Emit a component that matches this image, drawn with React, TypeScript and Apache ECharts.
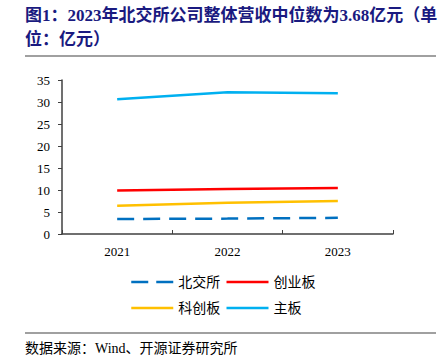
import React, { useEffect, useRef } from "react";
import * as echarts from "echarts";

const years = ["2021", "2022", "2023"];
const bse = [3.4, 3.5, 3.68];
const chinext = [9.9, 10.2, 10.45];
const star = [6.4, 7.1, 7.5];
const mainBoard = [30.6, 32.2, 32.0];

const serif = "'Liberation Serif', 'Times New Roman', 'Noto Sans CJK SC', serif";

const colors = {
  bse: "#0070C0",
  chinext: "#FF0000",
  star: "#FFC000",
  main: "#00B0F0",
};

export default function App() {
  const ref = useRef<HTMLDivElement>(null);
  useEffect(() => {
    const chart = echarts.init(ref.current!, undefined, { renderer: "svg" });
    const legendCommon = {
      left: 130,
      itemWidth: 42,
      itemHeight: 14,
      itemGap: 5,
      padding: 0,
      itemStyle: { opacity: 0 },
      textStyle: { fontFamily: serif, fontSize: 14, color: "#000" },
    };
    chart.setOption({
      animation: false,
      backgroundColor: "#ffffff",
      grid: { left: 62, right: 53, top: 80, bottom: 130 },
      xAxis: {
        type: "category",
        data: years,
        boundaryGap: true,
        axisLine: { lineStyle: { color: "#404040", width: 1.5 } },
        axisTick: { show: true, inside: true, length: 4, lineStyle: { color: "#404040" } },
        axisLabel: { color: "#000", fontFamily: serif, fontSize: 13, margin: 11 },
      },
      yAxis: {
        type: "value",
        min: 0,
        max: 35,
        interval: 5,
        splitLine: { show: false },
        axisLine: { show: true, lineStyle: { color: "#404040", width: 1.5 } },
        axisTick: { show: true, inside: false, length: 4, lineStyle: { color: "#404040" } },
        axisLabel: { color: "#000", fontFamily: serif, fontSize: 13, margin: 12 },
      },
      legend: [
        {
          ...legendCommon,
          top: 275,
          data: [
            { name: "北交所", lineStyle: { color: colors.bse, width: 2.5, type: [17, 8] } },
            { name: "创业板", lineStyle: { color: colors.chinext, width: 2.5 } },
          ],
        },
        {
          ...legendCommon,
          top: 301,
          data: [
            { name: "科创板", lineStyle: { color: colors.star, width: 2.5 } },
            { name: "主板", lineStyle: { color: colors.main, width: 2.5 } },
          ],
        },
      ],
      series: [
        {
          name: "北交所",
          type: "line",
          data: bse,
          symbol: "none",
          lineStyle: { color: colors.bse, width: 2.5, type: [17, 9] },
          itemStyle: { color: colors.bse },
        },
        {
          name: "创业板",
          type: "line",
          data: chinext,
          symbol: "none",
          lineStyle: { color: colors.chinext, width: 2.5 },
          itemStyle: { color: colors.chinext },
        },
        {
          name: "科创板",
          type: "line",
          data: star,
          symbol: "none",
          lineStyle: { color: colors.star, width: 2.5 },
          itemStyle: { color: colors.star },
        },
        {
          name: "主板",
          type: "line",
          data: mainBoard,
          symbol: "none",
          lineStyle: { color: colors.main, width: 2.5 },
          itemStyle: { color: colors.main },
        },
      ],
      graphic: [
        {
          type: "text",
          left: 25,
          top: 7,
          style: {
            text: "图1：2023年北交所公司整体营收中位数为3.68亿元（单",
            font: `bold 17px ${serif}`,
            fill: "#1a1a80",
          },
        },
        {
          type: "text",
          left: 25,
          top: 31,
          style: {
            text: "位：亿元）",
            font: `bold 17px ${serif}`,
            fill: "#1a1a80",
          },
        },
        {
          type: "line",
          shape: { x1: 25, y1: 56, x2: 436, y2: 56 },
          style: { stroke: "#808080", lineWidth: 1.5 },
        },
        {
          type: "line",
          shape: { x1: 25, y1: 333, x2: 436, y2: 333 },
          style: { stroke: "#808080", lineWidth: 1.5 },
        },
        {
          type: "text",
          left: 25,
          top: 341,
          style: {
            text: "数据来源：Wind、开源证券研究所",
            font: `14px ${serif}`,
            fill: "#000",
          },
        },
      ],
    });
    return () => chart.dispose();
  }, []);
  return <div ref={ref} style={{ width: 446, height: 364, position: "absolute", left: 0, top: 0 }} />;
}
